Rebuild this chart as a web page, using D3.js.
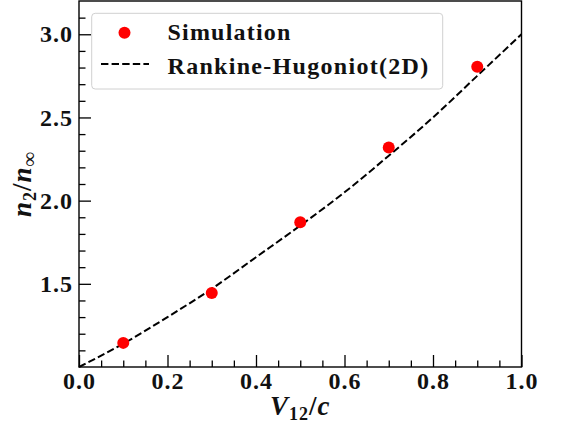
<!DOCTYPE html>
<meta charset="utf-8">
<style>
  body { margin: 0; background: #fff; }
  text { font-family: "Liberation Serif", serif; font-weight: bold; }
</style>
<svg width="561" height="426"></svg>
<script src="https://d3js.org/d3.v7.min.js"></script>
<script>

// simulation points
var simX = [0.1, 0.3, 0.5, 0.7, 0.9],
    simY = [1.145, 1.445, 1.87, 2.32, 2.805];

// Rankine-Hugoniot (2D) curve
var rhX = [0.0, 0.1, 0.2, 0.3, 0.4, 0.5, 0.6, 0.7, 0.8, 0.9, 1.0],
    rhY = [1.00, 1.14, 1.30, 1.47, 1.66, 1.85, 2.05, 2.27, 2.50, 2.75, 3.00];

var xTicks = [0.0, 0.2, 0.4, 0.6, 0.8, 1.0],
    yTicks = [1.5, 2.0, 2.5, 3.0];

var svg = d3.select("svg"),
    mLeft = 79, mRight = 521.5, mTop = 1, mBottom = 367;

var x = d3.scaleLinear().domain([0, 1]).range([mLeft, mRight]),
    y = d3.scaleLinear().domain([1, 3.2]).range([mBottom, mTop]);

var xMinor = d3.range(0, 1.0001, 0.05).filter(function(v) { return Math.abs(v * 5 - Math.round(v * 5)) > 1e-6; }),
    yMinor = d3.range(1.1, 3.2, 0.1).filter(function(v) { return Math.abs(v * 2 - Math.round(v * 2)) > 1e-6; });

// minor ticks
svg.append("g")
    .attr("transform", "translate(0," + mBottom + ")")
    .call(d3.axisBottom(x).tickValues(xMinor).tickFormat("").tickSizeInner(-6.5).tickSizeOuter(0));
svg.append("g")
    .attr("transform", "translate(" + mLeft + ",0)")
    .call(d3.axisLeft(y).tickValues(yMinor).tickFormat("").tickSizeInner(-6.5).tickSizeOuter(0));

// major ticks
svg.append("g")
    .attr("transform", "translate(0," + mBottom + ")")
    .call(d3.axisBottom(x).tickValues(xTicks).tickFormat(d3.format(".1f")).tickSizeInner(-12).tickSizeOuter(0).tickPadding(5));
svg.append("g")
    .attr("transform", "translate(" + mLeft + ",0)")
    .call(d3.axisLeft(y).tickValues(yTicks).tickFormat(d3.format(".1f")).tickSizeInner(-12).tickSizeOuter(0).tickPadding(6));

svg.selectAll(".domain").remove();
svg.selectAll(".tick line").attr("stroke", "#000").attr("stroke-width", 1.3);
svg.selectAll(".tick text")
    .attr("fill", "#111")
    .style("font-family", "'Liberation Serif', serif")
    .style("font-weight", "bold")
    .style("font-size", "24px")
    .style("letter-spacing", "1px");

// frame
svg.append("rect")
    .attr("x", mLeft).attr("y", mTop)
    .attr("width", mRight - mLeft).attr("height", mBottom - mTop)
    .attr("fill", "none").attr("stroke", "#000").attr("stroke-width", 1.4);

// theory curve
var line = d3.line()
    .x(function(d) { return x(d[0]); })
    .y(function(d) { return y(d[1]); })
    .curve(d3.curveMonotoneX);

svg.append("path")
    .datum(d3.zip(rhX, rhY))
    .attr("d", line)
    .attr("fill", "none")
    .attr("stroke", "#000")
    .attr("stroke-width", 2)
    .attr("stroke-dasharray", "7.4,3.2");

// simulation dots
svg.append("g").selectAll("circle")
    .data(d3.zip(simX, simY))
  .enter().append("circle")
    .attr("cx", function(d) { return x(d[0]); })
    .attr("cy", function(d) { return y(d[1]); })
    .attr("r", 6)
    .attr("fill", "#ff0000");

// legend
var lg = svg.append("g");
lg.append("rect")
    .attr("x", 91.7).attr("y", 13.3)
    .attr("width", 351).attr("height", 75.7)
    .attr("rx", 3.5)
    .attr("fill", "#fff").attr("fill-opacity", 0.8)
    .attr("stroke", "#d0d0d0").attr("stroke-width", 1);
lg.append("circle").attr("cx", 124.5).attr("cy", 32.8).attr("r", 6).attr("fill", "#ff0000");
lg.append("line")
    .attr("x1", 101).attr("x2", 149).attr("y1", 64).attr("y2", 64)
    .attr("stroke", "#000").attr("stroke-width", 2).attr("stroke-dasharray", "7.4,3.2");
lg.append("text").attr("x", 167.5).attr("y", 39.5)
    .style("font-size", "24px").style("letter-spacing", "1.2px").attr("fill", "#111")
    .text("Simulation");
lg.append("text").attr("x", 167.5).attr("y", 74)
    .style("font-size", "24px").style("letter-spacing", "1.3px").attr("fill", "#111")
    .text("Rankine-Hugoniot(2D)");

// axis labels
var xl = svg.append("text")
    .attr("x", (mLeft + mRight) / 2).attr("y", 415)
    .attr("text-anchor", "middle")
    .style("font-size", "27px").style("letter-spacing", "1px").attr("fill", "#111");
xl.append("tspan").style("font-style", "italic").text("V");
xl.append("tspan").attr("dy", 5).style("font-size", "18px").text("12");
xl.append("tspan").attr("dy", -5).text("/");
xl.append("tspan").style("font-style", "italic").text("c");

var yl = svg.append("text")
    .attr("transform", "translate(31," + (mTop + mBottom) / 2 + ") rotate(-90)")
    .attr("text-anchor", "middle")
    .style("font-size", "27px").style("letter-spacing", "1px").attr("fill", "#111");
yl.append("tspan").style("font-style", "italic").text("n");
yl.append("tspan").attr("dy", 5).style("font-size", "18px").text("2");
yl.append("tspan").attr("dy", -5).text("/");
yl.append("tspan").style("font-style", "italic").text("n");
yl.append("tspan").attr("dy", 5).style("font-size", "20px").text("∞");

</script>
